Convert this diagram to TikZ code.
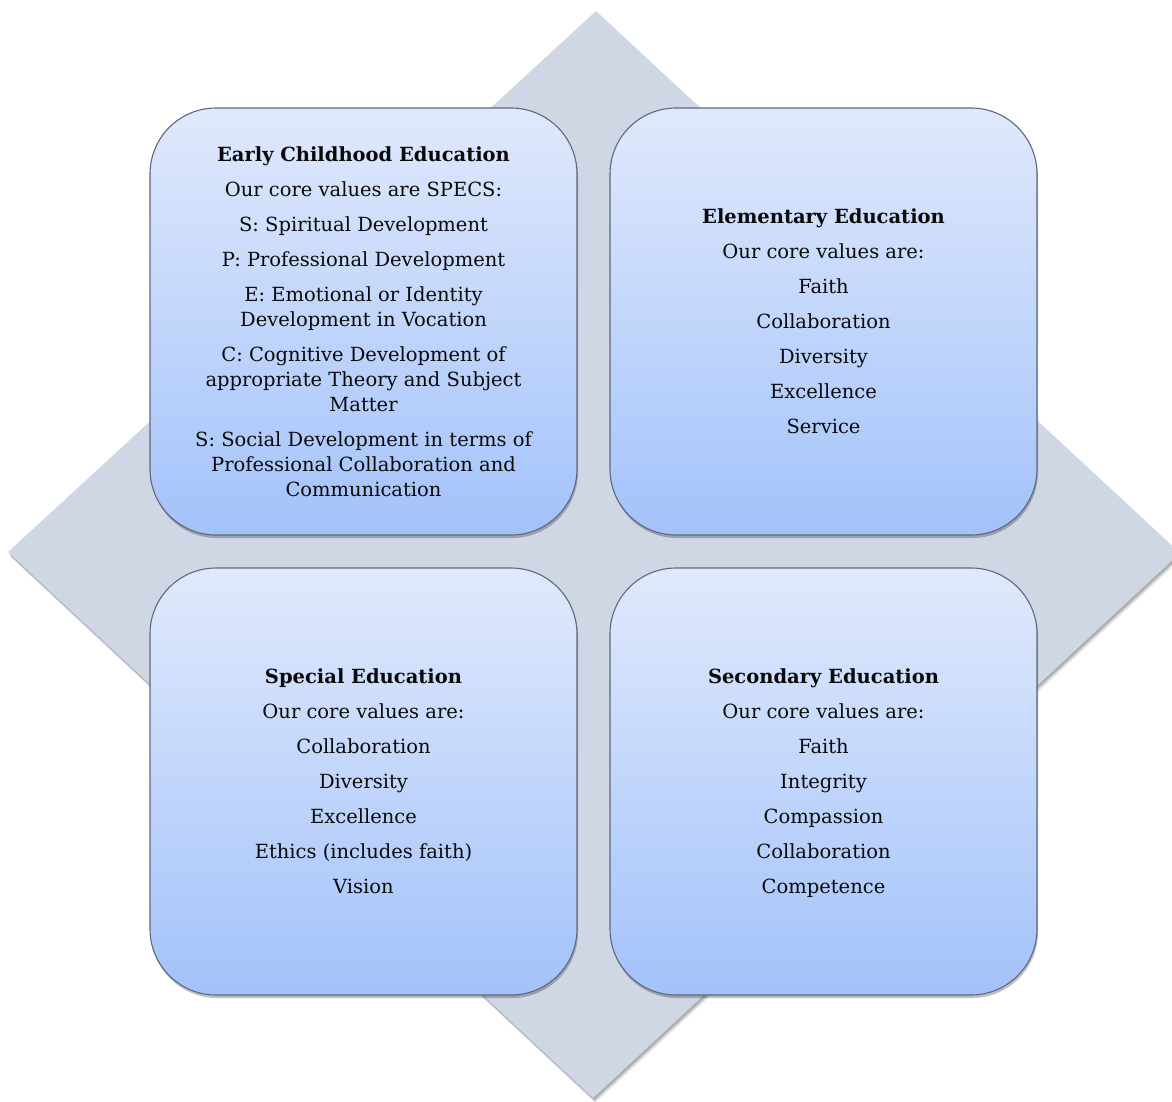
\documentclass[tikz,border=0pt]{standalone}
\usepackage{fontspec}
\setmainfont{DejaVu Serif}
\usetikzlibrary{shadows}
\definecolor{diam}{RGB}{207,214,228}
\definecolor{boxtop}{RGB}{224,233,252}
\definecolor{boxbot}{RGB}{163,194,250}
\definecolor{boxline}{RGB}{95,105,125}
\definecolor{txt}{RGB}{10,10,10}
\newcommand\firststrut{\rule[-7.5pt]{0pt}{29pt}}
\newcommand\laststrut{\rule[-7.5pt]{0pt}{7.5pt}}
\tikzset{
  valuebox/.style={rectangle, rounded corners=66pt, minimum width=427pt, minimum height=427pt,
    inner sep=0pt, draw=boxline, line width=1.1pt, top color=boxtop, bottom color=boxbot,
    align=center, text=txt, font=\fontsize{19.5}{25}\selectfont,
    drop shadow={shadow xshift=1pt, shadow yshift=-3pt, opacity=0.25, fill=black}},
}
\begin{document}
\begin{tikzpicture}[x=1pt,y=-1pt]
\useasboundingbox (0,0) rectangle (1172,1101);
\clip (0,0) rectangle (1172,1101);
% diamond shadow
\foreach \s/\o in {5/0.06,4/0.08,3/0.10,2/0.12}{
  \fill[black,opacity=\o] (596+\s*0.5,11+\s) -- (1180+\s*0.5,553+\s) -- (593+\s*0.5,1098+\s) -- (8+\s*0.5,552+\s) -- cycle;
}
\fill[diam] (596,11) -- (1180,553) -- (593,1098) -- (8,552) -- cycle;

\node[valuebox] (ece) at (363.5,321.5) {\firststrut\textbf{Early Childhood Education}\\[10pt]
Our core values are SPECS:\\[10pt]
S: Spiritual Development\\[10pt]
P: Professional Development\\[10pt]
E: Emotional or Identity\\Development in Vocation\\[10pt]
C: Cognitive Development of\\appropriate Theory and Subject\\Matter\\[10pt]
S: Social Development in terms of\\Professional Collaboration and\\Communication\laststrut};

\node[valuebox] (elem) at (823.5,321.5) {\firststrut\textbf{Elementary Education}\\[10pt]
Our core values are:\\[10pt]
Faith\\[10pt]
Collaboration\\[10pt]
Diversity\\[10pt]
Excellence\\[10pt]
Service\laststrut};

\node[valuebox] (sped) at (363.5,781.5) {\firststrut\textbf{Special Education}\\[10pt]
Our core values are:\\[10pt]
Collaboration\\[10pt]
Diversity\\[10pt]
Excellence\\[10pt]
Ethics (includes faith)\\[10pt]
Vision\laststrut};

\node[valuebox] (sec) at (823.5,781.5) {\firststrut\textbf{Secondary Education}\\[10pt]
Our core values are:\\[10pt]
Faith\\[10pt]
Integrity\\[10pt]
Compassion\\[10pt]
Collaboration\\[10pt]
Competence\laststrut};
\end{tikzpicture}
\end{document}
